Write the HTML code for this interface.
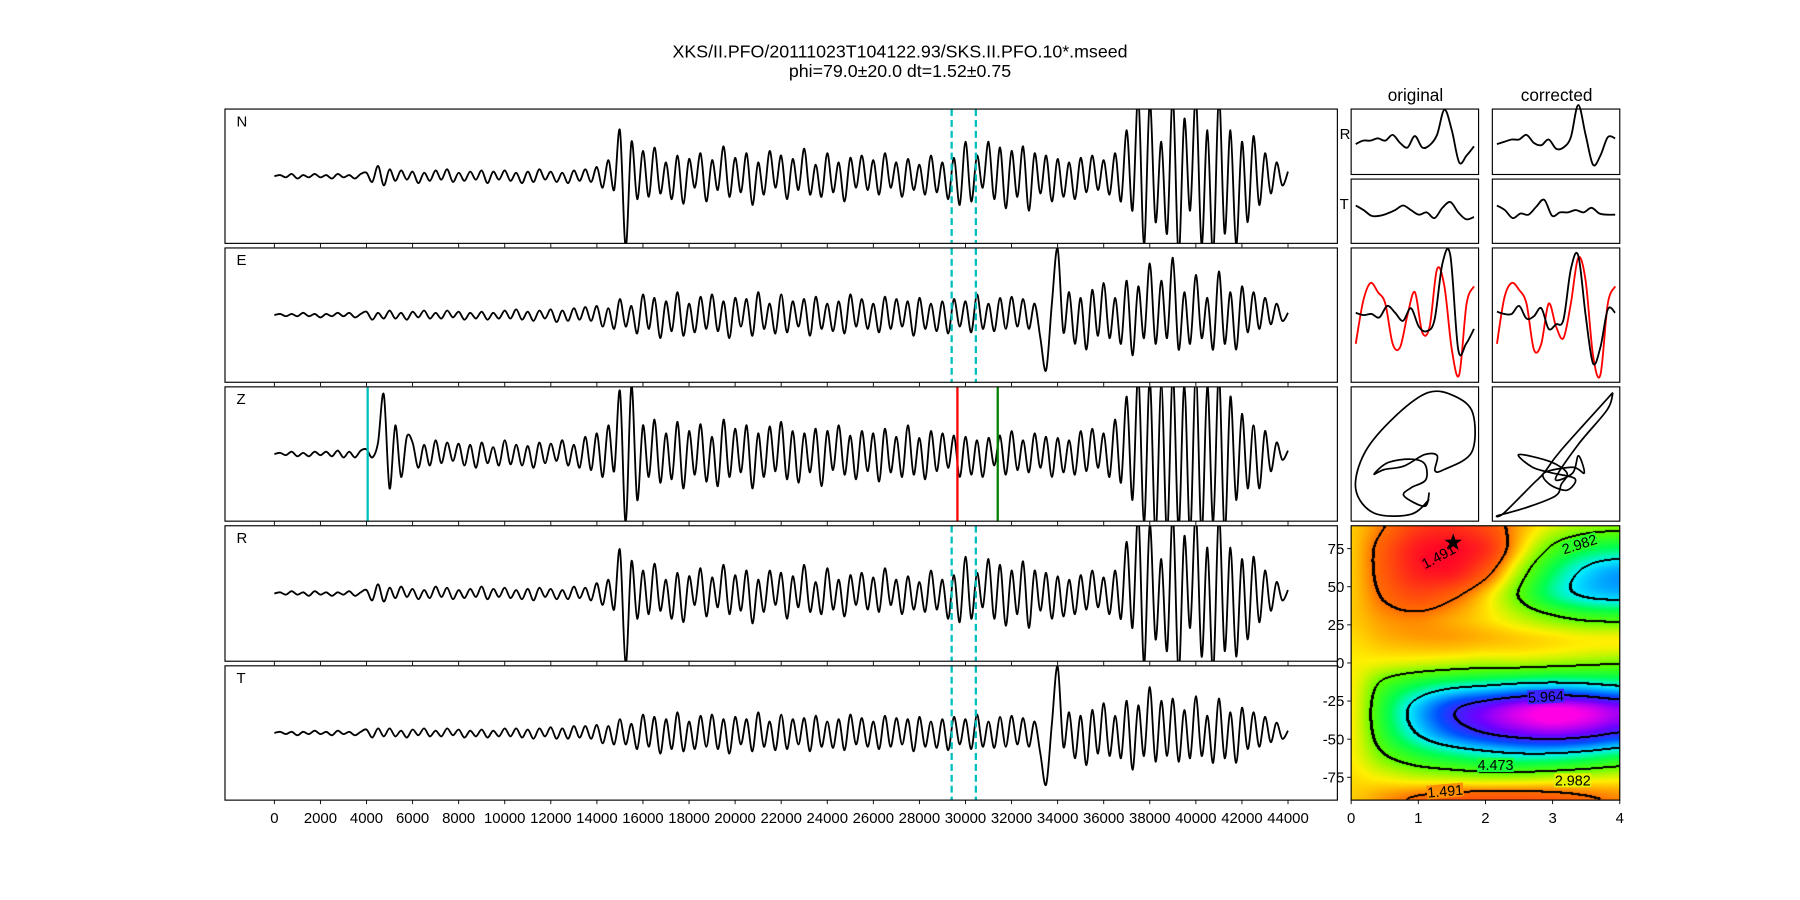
<!DOCTYPE html>
<html><head><meta charset="utf-8"><style>
html,body{margin:0;padding:0;background:#fff;}
#wrap{position:relative;width:1800px;height:900px;overflow:hidden;}
svg{position:absolute;left:0;top:0;}
#hm{position:absolute;}
text{font-family:"Liberation Sans","DejaVu Sans",sans-serif;fill:#000;}
</style></head><body>
<div id="wrap">
<canvas id="hm"></canvas>
<svg id="s" width="1800" height="900" viewBox="0 0 1568 784">
<text x="784" y="50" text-anchor="middle" font-size="15.5">XKS/II.PFO/20111023T104122.93/SKS.II.PFO.10*.mseed</text>
<text x="784" y="67" text-anchor="middle" font-size="15.5">phi=79.0±20.0 dt=1.52±0.75</text>
<text x="1233" y="88" text-anchor="middle" font-size="15">original</text>
<text x="1356" y="88" text-anchor="middle" font-size="15">corrected</text>
<g id="g"></g>
</svg>
</div>
<script>
// ---- data ----
const traceStep = 250;
const traceN = [0,1,-1,2,-2,1,-1,2,-1,1,-2,2,-1,1,-2,2, 3,-5,9,-8,
6,-4,5,-3,4,-6,3,-4,5,-3,6,-5,3,-4,4,-3,5,-6,4,-3,5,-4,3,-6,4,-5,6,-3,4,-5,3,-6,5,-4,6,-5,
8,-10,14,-12, 40,-62,30,-20,
22,-18,25,-15,12,-20,18,-24,15,-10,20,-22,14,-12,26,-18,16,-14,20,-25,12,-16,22,-10,18,-20,15,-12,24,-16,10,-18,20,-14,12,-22,16,-10,18,-12,14,-16,20,-10,12,-18,15,-12,10,-16,18,-14,
12,-20,16,-25,30,-22,18,-10, 30,-20,25,-28,22,-18,26,-30,20,-15,18,-22,
15,-18,12,-20,16,-14,18,-12,14,-16,20,-22,
40,-30,70,-60,65,-40,30,-50,70,-70,50,-30,70,-60,40,-70,70,-50,40,-60,30,-40,35,-25,20,-15,12,-8,4];
const traceE = [0,1,-1,1,-1,2,-1,1,-2,1,-1,2,-1,2,-2,1,
3,-4,2,-3,4,-3,2,-4,3,-2,4,-3,2,-3,4,-2,3,-4,2,-3,3,-4,2,-3,4,-3,5,-4,3,-5,4,-3,5,-6,4,-5,6,-4,7,-5,
8,-10,6,-12,14,-10,8,-16,18,-12,15,-20,12,-14,20,-18,10,-15,16,-12,18,-14,12,-20,15,-10,14,-18,20,-12,10,-16,18,-15,12,-10,14,-18,16,-12,10,-14,12,-16,18,-10,14,-12,10,-15,16,-12,14,-10,12,-18,15,-12,10,-14,
12,-16,14,-10,12,-15,18,-12,10,-14,15,-12,16,-10,14,-12,10,-20,-48,10,58,-15,
20,-25,15,-30,22,-18,28,-20,15,-25,30,-35,25,-20,45,-25,30,-20,50,-30,20,-25,35,-20,15,-30,38,-25,20,-30,25,-15,20,-12,15,-8,10,-5,2];
const traceZ = [0,1,-1,2,-2,1,-2,2,-1,2,-2,3,-3,2,-3,3,
4,-3,10,52,-30,25,-20,15,
10,-12,8,-10,12,-8,10,-6,9,-10,8,-12,10,-8,6,-10,12,-9,8,-10,7,-12,10,-8,9,-6,12,-10,8,-12,15,-14,
18,-20,25,-15,55,-60,60,-40,
25,-20,30,-25,18,-22,28,-30,20,-18,26,-24,15,-28,30,-20,22,-16,25,-30,18,-20,24,-15,28,-22,20,-25,18,-16,22,-28,20,-14,25,-18,16,-22,20,-15,18,-24,22,-16,15,-20,25,-18,14,-22,20,-15,18,-12,16,-20,
15,-18,12,-20,14,-10,16,-18,20,-14,12,-16,18,-12,15,-20,14,-16,12,-18,20,-15,22,-12,18,-20,30,-25,
50,-40,70,-60,65,-70,60,-70,70,-65,60,-70,70,-70,60,-60,70,-70,50,-40,35,-30,25,-30,20,-15,10,-5,3];
const traceR = [0,1,-1,2,-1,1,-2,2,-1,1,-2,1,-1,2,-2,1, 3,-6,8,-7,
5,-4,6,-3,4,-5,3,-4,6,-3,5,-5,3,-4,4,-3,6,-5,4,-3,5,-4,3,-5,4,-6,5,-3,4,-5,3,-5,6,-4,5,-6,
9,-10,12,-14, 38,-62,28,-22,
20,-18,26,-15,12,-22,18,-25,15,-10,22,-20,14,-12,25,-18,16,-15,20,-26,12,-16,20,-10,18,-22,15,-12,25,-16,10,-18,22,-14,12,-20,16,-10,18,-14,14,-16,22,-10,12,-18,15,-14,10,-16,20,-14,
12,-22,16,-25,32,-22,18,-12, 30,-22,25,-28,20,-18,28,-30,20,-15,18,-22,
15,-20,12,-18,16,-14,20,-12,14,-18,20,-22,
45,-30,70,-62,60,-40,30,-50,70,-70,50,-30,70,-55,40,-70,70,-50,40,-55,30,-40,32,-25,20,-15,10,-6,3];
const traceT = [0,1,-1,1,-2,1,-1,2,-1,1,-2,2,-1,1,-2,1,
3,-4,4,-3,4,-3,2,-4,3,-2,4,-3,2,-3,4,-2,3,-4,2,-3,3,-4,2,-3,4,-3,4,-4,3,-5,4,-3,5,-5,4,-5,6,-4,6,-5,
7,-9,6,-10,12,-10,8,-14,16,-12,14,-18,12,-14,18,-16,10,-14,15,-12,16,-14,12,-18,14,-10,12,-16,18,-12,10,-15,16,-14,12,-10,13,-16,15,-12,10,-13,12,-15,16,-10,13,-12,10,-14,15,-12,13,-10,12,-16,14,-12,10,-13,
12,-15,14,-10,12,-14,16,-12,10,-13,14,-12,15,-10,13,-12,10,-18,-45,8,58,-12,
18,-22,15,-28,20,-18,26,-20,15,-22,28,-32,24,-20,40,-25,28,-20,30,-25,20,-22,32,-20,15,-26,30,-22,18,-26,22,-14,18,-12,14,-8,9,-5,2];
const xTicks = [0,2000,4000,6000,8000,10000,12000,14000,16000,18000,20000,22000,24000,26000,28000,30000,32000,34000,36000,38000,40000,42000,44000];
const dashTimes = [29400,30450];
const pickZ = {cyan:4050, red:29650, green:31400};
// small panels
const origR = [-2,1,1,3,1,6,-1,-5,5,-5,-3,6,28,10,-18,-12,-4];
const corrR = [-2,0,2,2,6,-1,-3,2,-6,-5,4,32,6,-20,-12,4,3];
const origT = [5,1,-4,-4,-2,1,5,1,-3,-1,-6,3,8,-1,-7,-5];
const corrT = [5,1,-6,-2,-3,4,10,-4,-1,-1,1,-1,3,-2,-3,-3];
const origEk = [2,0,1,-2,8,2,-5,6,-10,-14,-4,45,52,-30,-25,-12];
const origEr = [-25,12,28,20,10,-25,-28,0,20,-15,-10,40,25,-30,-52,10,25];
const corrEk = [3,1,1,8,-3,-1,6,-12,-8,-4,40,52,0,-42,-28,5,2];
const corrEr = [-25,15,28,22,10,-30,-25,10,-10,-20,10,50,30,-35,-52,10,25];
const pmOrigX = [68,64,46,52,65,64,52,32,20,29,46,64,75,73,81,105,106,90,67,38,12,4,20,52,68];
const pmOrigY = [92,104,95,88,81,67,63,66,76,72,69,59,60,73,72,57,23,8,5,26,57,89,110,111,98];
const pmCorrX = [105,60,45,35,10,5,30,55,60,65,50,23,35,52,72,65,50,45,70,80,75,70,55,75,100,105];
const pmCorrY = [5,55,75,85,110,112,105,95,85,75,65,59,70,75,80,90,85,75,70,75,60,75,80,50,20,5];
// grid search
const gridDt = [0,0.5,1,1.5,2,2.5,3,3.5,4];
const gridPhi = [90,75,60,45,30,15,0,-15,-30,-45,-60,-75,-90];
const gridVals = [
[2.0,1.5,0.8,0.6,1.0,1.8,2.4,2.7,2.8],
[2.0,1.2,0.3,0.1,0.6,2.0,3.1,3.7,3.9],
[2.0,1.2,0.4,0.3,1.2,2.6,3.8,4.6,5.0],
[2.0,1.4,1.0,1.3,2.0,3.0,4.0,4.6,4.8],
[2.0,1.7,1.6,1.8,2.1,2.5,2.9,3.2,3.3],
[2.1,1.9,1.8,1.8,1.9,2.0,2.1,2.2,2.2],
[2.2,2.3,2.4,2.5,2.6,2.6,2.7,2.8,2.9],
[2.2,3.2,3.8,4.2,4.4,4.6,4.7,4.6,4.4],
[2.2,3.6,4.8,5.8,6.4,6.9,7.2,7.0,6.6],
[2.2,3.5,4.6,5.5,6.1,6.5,6.7,6.5,6.1],
[2.2,3.0,3.6,4.0,4.3,4.5,4.5,4.3,4.0],
[2.1,2.3,2.5,2.6,2.7,2.7,2.6,2.5,2.4],
[2.0,1.7,1.4,1.2,1.1,1.1,1.2,1.4,1.6]];
const levels = [1.491,2.982,4.473,5.964];
const best = {dt:1.52, phi:79};
const hmXTicks = [0,1,2,3,4];
const hmYTicks = [75,50,25,0,-25,-50,-75];

// ---- drawing ----
const NS='http://www.w3.org/2000/svg';
const G=document.getElementById('g');
function el(tag,attrs,parent){const e=document.createElementNS(NS,tag);for(const k in attrs)e.setAttribute(k,attrs[k]);(parent||G).appendChild(e);return e;}
function smooth(pts){let d='M'+pts[0][0].toFixed(2)+','+pts[0][1].toFixed(2);
 for(let i=0;i<pts.length-1;i++){const p0=pts[i-1]||pts[i],p1=pts[i],p2=pts[i+1],p3=pts[i+2]||p2;
 const c1=[p1[0]+(p2[0]-p0[0])/6,p1[1]+(p2[1]-p0[1])/6],c2=[p2[0]-(p3[0]-p1[0])/6,p2[1]-(p3[1]-p1[1])/6];
 d+='C'+c1[0].toFixed(2)+','+c1[1].toFixed(2)+' '+c2[0].toFixed(2)+','+c2[1].toFixed(2)+' '+p2[0].toFixed(2)+','+p2[1].toFixed(2);}
 return d;}
const L=196,R=1165;
const xs=t=>239+t*(1122-239)/44000;
const panels=[{n:'N',top:95,bot:212,d:traceN,dash:true},{n:'E',top:216,bot:333,d:traceE,dash:true},{n:'Z',top:337,bot:454,d:traceZ,dash:false},{n:'R',top:458,bot:576,d:traceR,dash:true},{n:'T',top:580,bot:697,d:traceT,dash:true}];
let ci=0;
panels.forEach(p=>{
 ci++;
 const cid='clip'+ci;
 const cp=el('clipPath',{id:cid});el('rect',{x:L,y:p.top,width:R-L,height:p.bot-p.top},cp);
 const mid=(p.top+p.bot)/2;
 const pts=p.d.map((v,i)=>[xs(i*traceStep),mid-v]);
 const path=el('path',{d:smooth(pts),fill:'none',stroke:'#000','stroke-width':1.6,'clip-path':'url(#'+cid+')'});
 
 
 if(p.dash){dashTimes.forEach((t,k)=>{const ln=el('line',{x1:xs(t),x2:xs(t),y1:p.top,y2:p.bot,stroke:'#00bfbf','stroke-width':2,'stroke-dasharray':'6,3.5'});
  
  });}
 else{[['cyan','#00bfbf'],['red','#ff0000'],['green','#008000']].forEach(([k,c])=>{const ln=el('line',{x1:xs(pickZ[k]),x2:xs(pickZ[k]),y1:p.top,y2:p.bot,stroke:c,'stroke-width':2});
  
  });}
 const fr=el('rect',{x:L,y:p.top,width:R-L,height:p.bot-p.top,fill:'none',stroke:'#000','stroke-width':1});
 
 
 const lb=el('text',{x:206,y:p.top+15,'font-size':13});lb.textContent=p.n;
 
 
 xTicks.forEach(t=>{el('line',{x1:xs(t),x2:xs(t),y1:p.bot,y2:p.bot+3.5,stroke:'#000','stroke-width':0.8});});
});
xTicks.forEach(t=>{const tx=el('text',{x:xs(t),y:717,'text-anchor':'middle','font-size':13});tx.textContent=t;
 
 });

// small panels
const cols=[1177,1300],cw=111;
const rows=[[95,152],[156,212],[216,333],[337,454]];
function wave(arr,c,r,color,name){const x0=cols[c]+4,x1=cols[c]+cw-4,mid=(rows[r][0]+rows[r][1])/2;
 const pts=arr.map((v,i)=>[x0+i*(x1-x0)/(arr.length-1),mid-v]);
 const pa=el('path',{d:smooth(pts),fill:'none',stroke:color,'stroke-width':1.6});
 
 }
wave(origR,0,0,'#000','orig-r-wave');wave(corrR,1,0,'#000','corr-r-wave');
wave(origT,0,1,'#000','orig-t-wave');wave(corrT,1,1,'#000','corr-t-wave');
wave(origEr,0,2,'#ff0000','orig-fast-wave');wave(origEk,0,2,'#000','orig-slow-wave');
wave(corrEr,1,2,'#ff0000','corr-fast-wave');wave(corrEk,1,2,'#000','corr-slow-wave');
function pm(xa,ya,c,name){const pts=xa.map((x,i)=>[cols[c]+x,rows[3][0]+ya[i]]);
 const pa=el('path',{d:smooth(pts),fill:'none',stroke:'#000','stroke-width':1.5});
 
 }
pm(pmOrigX,pmOrigY,0,'orig-particle-motion');pm(pmCorrX,pmCorrY,1,'corr-particle-motion');
rows.forEach((r,ri)=>cols.forEach((c,k)=>{const fr=el('rect',{x:c,y:r[0],width:cw,height:r[1]-r[0],fill:'none',stroke:'#000','stroke-width':1});
 
 }));
[['R',121],['T',182]].forEach(([t,y])=>{const tx=el('text',{x:1167,y:y,'font-size':13});tx.textContent=t;
 
 });

// heatmap
const HX0=1177,HX1=1411,HY0=458,HY1=697;
const hx=d=>HX0+d/4*(HX1-HX0), hy=p=>HY0+(90-p)/180*(HY1-HY0);
const SC=1800/1568;
const cv=document.getElementById('hm');
cv.style.left=(HX0*SC)+'px';cv.style.top=(HY0*SC)+'px';
const W=Math.round((HX1-HX0)*SC),H=Math.round((HY1-HY0)*SC);
cv.width=W;cv.height=H;
const ctx=cv.getContext('2d');
function cr(p0,p1,p2,p3,t){return 0.5*((2*p1)+(-p0+p2)*t+(2*p0-5*p1+4*p2-p3)*t*t+(-p0+3*p1-3*p2+p3)*t*t*t);}
function gv(r,c){r=Math.max(0,Math.min(gridPhi.length-1,r));c=Math.max(0,Math.min(gridDt.length-1,c));return gridVals[r][c];}
function field(u,v){
 const c=Math.floor(u),r=Math.floor(v),tu=u-c,tv=v-r;const rowv=[];
 for(let j=-1;j<=2;j++){rowv.push(cr(gv(r+j,c-1),gv(r+j,c),gv(r+j,c+1),gv(r+j,c+2),tu));}
 return cr(rowv[0],rowv[1],rowv[2],rowv[3],tv);}
const cstops=[[0,[255,0,40]],[1.5,[255,110,0]],[2.2,[255,240,0]],[3.0,[90,255,0]],[3.8,[0,255,80]],[4.5,[0,240,255]],[5.5,[0,80,255]],[6.4,[110,0,255]],[7.2,[255,0,230]],[9,[255,0,200]]];
function col(v){for(let i=0;i<cstops.length-1;i++){const a=cstops[i],b=cstops[i+1];if(v<=b[0]){const t=Math.max(0,(v-a[0])/(b[0]-a[0]));return a[1].map((x,k)=>x+(b[1][k]-x)*t);}}return cstops[cstops.length-1][1];}
const F=new Float32Array(W*H);
for(let y=0;y<H;y++)for(let x=0;x<W;x++){const u=x/(W-1)*(gridDt.length-1),v=y/(H-1)*(gridPhi.length-1);F[y*W+x]=field(u,v);}
const img=ctx.createImageData(W,H);
for(let i=0;i<W*H;i++){const c=col(F[i]);img.data[i*4]=c[0];img.data[i*4+1]=c[1];img.data[i*4+2]=c[2];img.data[i*4+3]=255;}
for(let y=0;y<H;y++)for(let x=0;x<W;x++){const v=F[y*W+x];
 for(const lv of levels){const s=v>lv;let hit=false;
  for(const [dx,dy] of [[1,0],[0,1],[1,1],[-1,1],[2,0],[0,2]]){const xx=x+dx,yy=y+dy;if(xx<0||xx>=W||yy>=H)continue;if((F[yy*W+xx]>lv)!==s){hit=true;break;}}
  if(hit){const i=(y*W+x)*4;img.data[i]=0;img.data[i+1]=0;img.data[i+2]=0;}}}
ctx.putImageData(img,0,0);
const hf=el('rect',{x:HX0,y:HY0,width:HX1-HX0,height:HY1-HY0,fill:'none',stroke:'#000','stroke-width':1});


const clabels=[[1.491,1.3,70,-28],[2.982,3.4,78,-18],[5.964,2.9,-22,-3],[4.473,2.15,-67,0],[2.982,3.3,-77,0],[1.491,1.4,-84,-5]];
clabels.forEach(([lv,d,p,rot])=>{const x=hx(d),y=hy(p);
 const c=col(field(d/4*(gridDt.length-1),(90-p)/180*(gridPhi.length-1)));
 el('rect',{x:x-16,y:y-6,width:32,height:12,fill:'rgb('+c.map(Math.round).join(',')+')',transform:'rotate('+rot+' '+x+' '+y+')'});
 const tx=el('text',{x:x,y:y+4.5,'text-anchor':'middle','font-size':12.5,transform:'rotate('+rot+' '+x+' '+y+')'});tx.textContent=lv.toFixed(3);
 
 });
const sx=hx(best.dt),sy=hy(best.phi);let sp='';
for(let i=0;i<10;i++){const r=i%2?3.2:8,a=-Math.PI/2+i*Math.PI/5;sp+=(i?'L':'M')+(sx+r*Math.cos(a)).toFixed(2)+','+(sy+r*Math.sin(a)).toFixed(2);}
const star=el('path',{d:sp+'Z',fill:'#000'});


hmXTicks.forEach(t=>{el('line',{x1:hx(t),x2:hx(t),y1:HY1,y2:HY1+3.5,stroke:'#000','stroke-width':0.8});
 const tx=el('text',{x:hx(t),y:717,'text-anchor':'middle','font-size':13});tx.textContent=t;
 
 });
hmYTicks.forEach(t=>{el('line',{x1:HX0-3.5,x2:HX0,y1:hy(t),y2:hy(t),stroke:'#000','stroke-width':0.8});
 const tx=el('text',{x:HX0-6,y:hy(t)+4.5,'text-anchor':'end','font-size':13});tx.textContent=t;
 
 });
</script>
</body></html>
